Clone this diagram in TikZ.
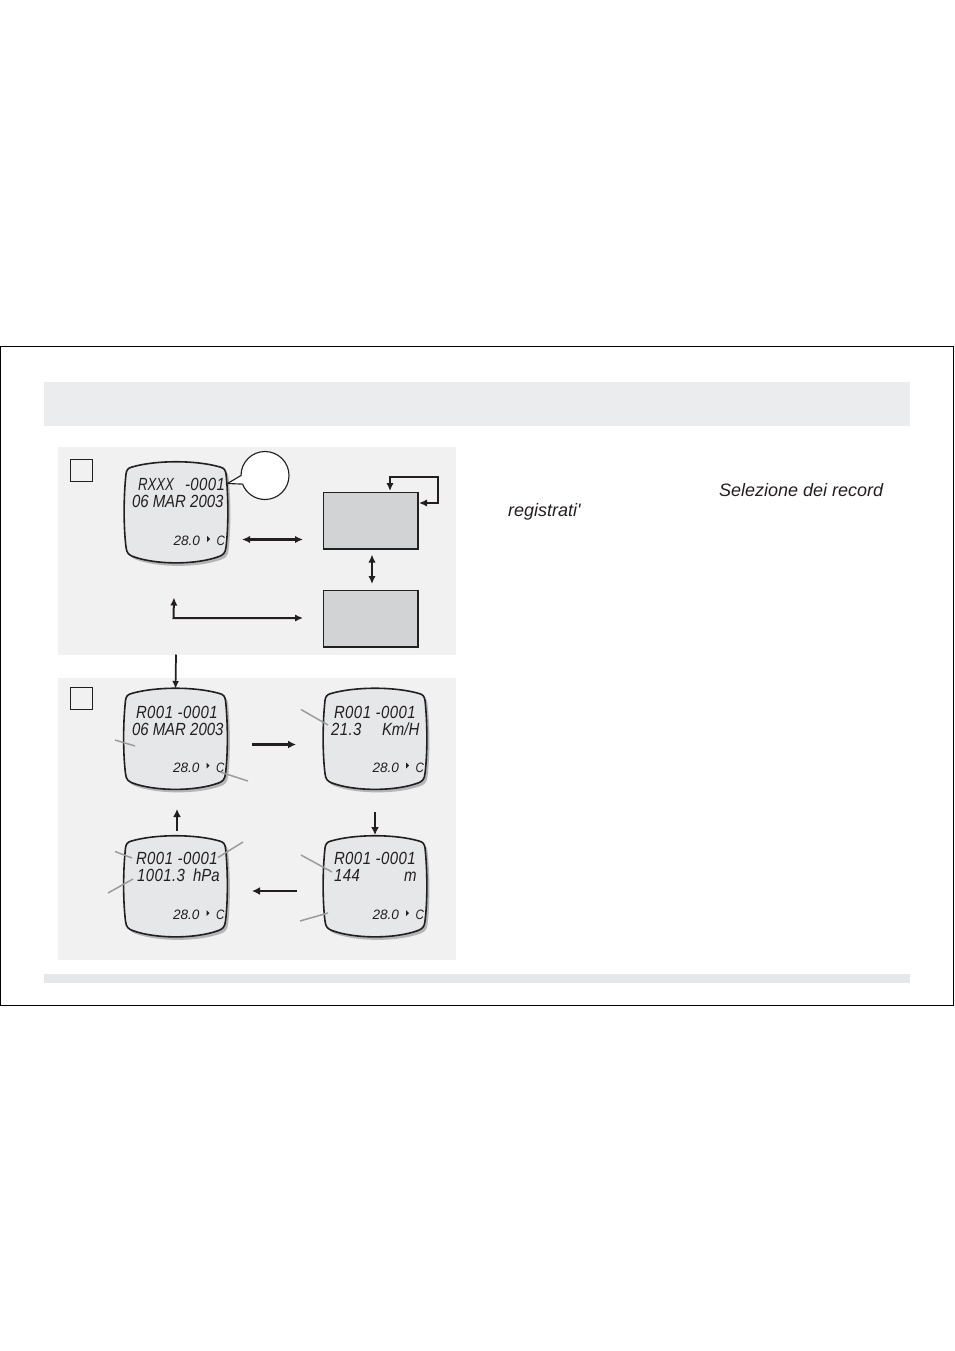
\documentclass[tikz,border=0pt]{standalone}
\usepackage{fontspec}
\setmainfont{Liberation Sans}
\newfontfamily\plainfont{Liberation Sans}
\newfontfamily\lcdbig[FakeStretch=0.85]{Liberation Sans}
\newfontfamily\lcdnarrow[FakeStretch=0.75]{Liberation Sans}
\newfontfamily\lcdwide[FakeStretch=0.85,LetterSpace=2.5]{Liberation Sans}
\usetikzlibrary{arrows.meta}
\definecolor{panelgray}{HTML}{F1F1F2}
\definecolor{headgray}{HTML}{EBECED}
\definecolor{footgray}{HTML}{E6E7E8}
\definecolor{screenfill}{HTML}{E6E7E8}
\definecolor{boxfill}{HTML}{D1D3D4}
\definecolor{shadowgray}{HTML}{B4B5B7}
\definecolor{leadgray}{HTML}{9A9B9D}
\definecolor{inkblack}{HTML}{231F20}
\tikzset{
  panelbox/.style={fill=panelgray,draw=none},
  tagbox/.style={draw=inkblack,line width=1.05pt,fill=panelgray},
  greybox/.style={draw=inkblack,line width=1.15pt,fill=boxfill},
  thinarrow/.style={draw=inkblack,line width=1.3pt,-{Latex[length=6pt,width=5pt]}},
  biarrow/.style={draw=inkblack,line width=2pt,{Latex[length=6pt,width=5.5pt]}-{Latex[length=6pt,width=5.5pt]}},
  thickarrow/.style={draw=inkblack,line width=2.2pt,-{Latex[length=6pt,width=6pt]}},
  leadline/.style={draw=leadgray,line width=1.1pt},
  lcdtext/.style={inner sep=0pt,outer sep=0pt,anchor=base west,text=inkblack,font=\lcdbig\itshape\fontsize{13.2pt}{15pt}\selectfont},
  lcdnarrowtext/.style={inner sep=0pt,outer sep=0pt,anchor=base west,text=inkblack,font=\lcdnarrow\itshape\fontsize{13.2pt}{15pt}\selectfont},
  lcdwidetext/.style={inner sep=0pt,outer sep=0pt,anchor=base west,text=inkblack,font=\lcdwide\itshape\fontsize{13.2pt}{15pt}\selectfont},
  lcdsmall/.style={inner sep=0pt,outer sep=0pt,anchor=base west,text=inkblack,font=\itshape\fontsize{10.2pt}{12pt}\selectfont},
  lcdunit/.style={inner sep=0pt,outer sep=0pt,anchor=base west,text=inkblack,font=\lcdbig\itshape\fontsize{10.2pt}{12pt}\selectfont},
  pagetext/.style={inner sep=0pt,outer sep=0pt,anchor=base west,text=inkblack,font=\plainfont\itshape\fontsize{13.5pt}{16pt}\selectfont}
}
\newcommand{\screenpath}{(-44,-45) .. controls (-20,-52) and (20,-52) .. (44,-45) .. controls (48,-44) and (49.5,-42) .. (50,-38) .. controls (52.5,-15) and (52.5,15) .. (50,35) .. controls (49.5,41) and (47,43) .. (43,44.5) .. controls (20,53) and (-20,53) .. (-43,44.5) .. controls (-47,43) and (-49.5,41) .. (-50,35) .. controls (-52.5,15) and (-52.5,-15) .. (-50,-38) .. controls (-49.5,-42) and (-48,-44) .. (-44,-45) -- cycle}
% name, centre x, centre y; also prints the "28.0 > C" row
\newcommand{\lcdscreen}[3]{%
  \coordinate (#1) at (#2,#3);
  \begin{scope}[shift={(#2+2.5,#3+3)}]
    \fill[shadowgray] \screenpath;
  \end{scope}
  \begin{scope}[shift={(#2,#3)}]
    \filldraw[fill=screenfill,draw=inkblack,line width=1.2pt] \screenpath;
    \fill[inkblack] (31,24) -- (34,27) -- (31,30) -- cycle;
    \node[lcdsmall] (#1temp) at (-2.5,33.5) {28.0};
    \node[lcdunit] (#1unit) at (40.5,33.5) {C};
  \end{scope}}
\begin{document}
\begin{tikzpicture}[x=0.75pt,y=-0.75pt]
\useasboundingbox (0,0) rectangle (954,1351);
\fill[white] (0,0) rectangle (954,1351);
\draw[black,line width=0.6pt] (0.5,346) rectangle (953.5,1005);
\fill[headgray] (44,382) rectangle (910,426);
\fill[footgray] (44,974) rectangle (910,983);
\path[panelbox] (58,447) rectangle (456,655);
\path[panelbox] (58,678) rectangle (456,960);
\node[tagbox,minimum width=16.5pt,minimum height=16.5pt,inner sep=0pt,anchor=north west] (tagA) at (70,459) {};
\node[tagbox,minimum width=16.5pt,minimum height=16.5pt,inner sep=0pt,anchor=north west] (tagB) at (70,687) {};

% first screen
\lcdscreen{lcdR}{176}{512}
\node[lcdnarrowtext] (rxxx) at (138,490) {RXXX};
\node[lcdwidetext] (rnum) at (185,490) {-0001};
\node[lcdtext] (rdate) at (132,507) {06 MAR 2003};

% callout
\coordinate (calloutc) at (265,475.5);
\filldraw[fill=white,draw=inkblack,line width=0.85pt] (241,475.5) arc[start angle=180,end angle=519,radius=24] -- (227.5,483.5) -- cycle;

% grey boxes
\node[greybox,minimum width=71.2pt,minimum height=42.6pt,inner sep=0pt,anchor=north west] (boxA) at (322.5,491.5) {};
\node[greybox,minimum width=71.2pt,minimum height=42.6pt,inner sep=0pt,anchor=north west] (boxB) at (322.5,589.5) {};

\coordinate (loopIn) at (390,491);
\coordinate (loopOut) at (419,503);
\draw[biarrow,line width=1.5pt] (loopOut) -- (438,503) -- (438,476.5) -- (390,476.5) -- (loopIn);
\coordinate (hL) at (242,539.5);
\coordinate (hR) at (303,539.5);
\draw[biarrow] (hL) -- (hR);
\coordinate (vT) at (372,554.5);
\coordinate (vB) at (372,584);
\draw[biarrow,line width=1.5pt] (vT) -- (vB);
\coordinate (elbowUp) at (174,597.5);
\coordinate (elbowR) at (303,618);
\draw[biarrow,line width=1.5pt] (elbowUp) -- (173.5,618) -- (elbowR);

% second panel screens
\lcdscreen{lcdA}{175.5}{738.5}
\lcdscreen{lcdB}{375}{738.5}
\lcdscreen{lcdC}{375}{886}
\lcdscreen{lcdD}{175.5}{886}

\coordinate (downS) at (176,654.5);
\draw[thinarrow] (downS) -- (lcdA |- 0,689);

\coordinate (ab1) at (252,744.5);
\coordinate (ab2) at (296,744.5);
\coordinate (bc1) at (375,812);
\coordinate (bc2) at (375,835);
\coordinate (cd1) at (297,891);
\coordinate (cd2) at (252,891);
\coordinate (da1) at (177,831);
\coordinate (da2) at (177,809);
\draw[thickarrow] (ab1) -- (ab2);
\draw[thickarrow] (bc1) -- (bc2);
\draw[thickarrow] (cd1) -- (cd2);
\draw[thickarrow] (da1) -- (da2);

\node[lcdwidetext] (a1) at (136,718) {R001 -0001};
\node[lcdtext] (a2) at (132,735) {06 MAR 2003};
\node[lcdwidetext] (b1) at (334,718) {R001 -0001};
\node[lcdwidetext] (b2) at (331,735) {21.3};
\node[lcdtext] (b3) at (382,735) {Km/H};
\node[lcdwidetext] (c1) at (334,864) {R001 -0001};
\node[lcdwidetext] (c2) at (334,881) {144};
\node[lcdtext] (c3) at (404,881) {m};
\node[lcdwidetext] (d1) at (136,864) {R001 -0001};
\node[lcdwidetext] (d2) at (137,881) {1001.3};
\node[lcdtext] (d3) at (193,881) {hPa};

% grey lead lines
\draw[leadline] (115,740) -- (135,746);
\draw[leadline] (220,772) -- (248,781);
\draw[leadline] (301,709.5) -- (328,725);
\draw[leadline] (301,855) -- (332,872);
\draw[leadline] (300,921) -- (328,913);
\draw[leadline] (115,851.5) -- (132,858);
\draw[leadline] (108,893) -- (133,879);
\draw[leadline] (218,857.5) -- (243,842);

% page text
\node[pagetext] (t1) at (719,496.5) {Selezione dei record};
\node[pagetext] (t2) at (508,516.5) {registrati'};
\end{tikzpicture}
\end{document}
